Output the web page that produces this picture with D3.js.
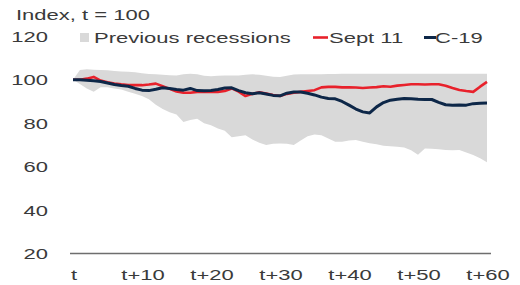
<!DOCTYPE html>
<html>
<head>
<meta charset="utf-8">
<script src="https://cdn.jsdelivr.net/npm/d3@7"></script>
<style>
  body { margin: 0; background: #fff; }
  text { font-family: "Liberation Sans", Arial, sans-serif; fill: #3a3a3a; }
</style>
</head>
<body>
<script>
// t = 0 .. 60
const days = d3.range(0, 61);

const c19 = [100, 100, 99.8, 99.5, 99.2, 98.5, 97.8, 97.3, 97, 96, 95.2, 95, 95.6, 96.3, 96, 95.5,
  95.2, 96, 95, 94.9, 95, 95.5, 96.2, 96.3, 95, 94, 93.6, 94, 93.4, 92.8, 92.6, 93.8, 94.4, 94.4,
  93.8, 93, 92, 91.4, 91.2, 90, 88.3, 86.5, 85.2, 84.7, 87.5, 89.5, 90.6, 91, 91.4, 91.3, 91,
  90.9, 90.9, 89.6, 88.5, 88.3, 88.4, 88.3, 89, 89.2, 89.3];

const sept11 = [100, 100, 100.5, 101.3, 99.6, 98.8, 98.3, 97.9, 97.6, 97.5, 97.5, 97.8, 98.2, 97,
  95.8, 94.6, 94, 94, 94.4, 94.5, 94.4, 94.4, 94.8, 96, 94.5, 92.5, 93.5, 94.2, 93.6, 93, 92.5,
  93.5, 94, 94.4, 94.8, 95.2, 96.5, 96.7, 96.7, 96.5, 96.5, 96.4, 96.2, 96.4, 96.6, 97, 96.8,
  97.3, 97.6, 97.9, 97.9, 97.8, 97.9, 97.9, 97.2, 96.2, 95.3, 94.8, 94.4, 96.8, 99];

const prevMax = [100, 104.5, 104.8, 104.6, 104.5, 104.4, 104, 103.8, 103.7, 103.5, 103, 102.7,
  102.5, 102.3, 102.1, 102, 102.5, 102.8, 102.5, 101.8, 101.6, 101.8, 102, 102, 102, 102.3, 102.5,
  102.3, 101.8, 101.4, 101.3, 101.8, 102.4, 102.5, 102.5, 102.5, 102.5, 102.6, 102.7, 102.8, 102.8,
  102.8, 102.8, 102.8, 102.8, 102.8, 102.8, 102.8, 102.8, 102.8, 102.8, 102.8, 102.8, 102.8, 102.8,
  102.8, 102.8, 102.8, 102.8, 102.8, 102.8];

const prevMin = [100, 98, 96, 94.5, 96.5, 96.5, 96, 95.5, 94.5, 93.5, 92.5, 91, 88.5, 86.5, 85, 84,
  80.5, 81.5, 82, 80, 79, 77.5, 76.5, 73.5, 74, 74.5, 72.5, 71, 70, 70.5, 70.7, 70.5, 70, 72, 74,
  74.8, 74.5, 73, 71.5, 71.5, 72, 72.2, 71.5, 70.8, 70.3, 69.6, 69.4, 69.2, 68.8, 67.5, 65.5, 68.3,
  68.2, 68, 67.7, 67.5, 67.6, 66.5, 65.3, 63.8, 62];

const yTicks = [20, 40, 60, 80, 100, 120];
const xTicks = [0, 10, 20, 30, 40, 50, 60];
const xTickLabels = ["t", "t+10", "t+20", "t+30", "t+40", "t+50", "t+60"];

const legendItems = ["Previous recessions", "Sept 11", "C-19"];

const red = "#e8212b";
const navy = "#0d2748";
const grey = "#d9d9d9";
const sx = 1.42; // text in the picture is stretched wide

var svg = d3.select("body")
  .append("svg")
  .attr("width", 520)
  .attr("height", 285);

const x = d3.scaleLinear().domain([0, 60]).range([73, 487]);
const y = d3.scaleLinear().domain([20, 120]).range([253.5, 36.3]);

// band of previous recessions
const area = d3.area()
  .x(function (d, i) { return x(days[i]); })
  .y0(function (d, i) { return y(prevMin[i]); })
  .y1(function (d, i) { return y(prevMax[i]); });

svg.append("path")
  .attr("d", area(days))
  .attr("fill", grey);

const line = d3.line()
  .x(function (d, i) { return x(days[i]); })
  .y(function (d) { return y(d); });

svg.append("path")
  .attr("d", line(sept11))
  .attr("fill", "none")
  .attr("stroke", red)
  .attr("stroke-width", 2.6)
  .attr("stroke-linejoin", "round");

svg.append("path")
  .attr("d", line(c19))
  .attr("fill", "none")
  .attr("stroke", navy)
  .attr("stroke-width", 3)
  .attr("stroke-linejoin", "round");

// x axis
svg.append("line")
  .attr("x1", 70)
  .attr("x2", 491)
  .attr("y1", y(20))
  .attr("y2", y(20))
  .attr("stroke", "#6e6e6e")
  .attr("stroke-width", 1.5);

svg.selectAll(".xlab")
  .data(xTicks)
  .enter()
  .append("text")
  .attr("class", "xlab")
  .attr("transform", function (d) { return "translate(" + (x(d) + 1) + ",280) scale(" + sx + ",1)"; })
  .attr("text-anchor", "middle")
  .style("font-size", "15.5px")
  .text(function (d, i) { return xTickLabels[i]; });

svg.selectAll(".ylab")
  .data(yTicks)
  .enter()
  .append("text")
  .attr("class", "ylab")
  .attr("transform", function (d) { return "translate(48," + (y(d) + 5.5) + ") scale(" + sx + ",1)"; })
  .attr("text-anchor", "end")
  .style("font-size", "15.5px")
  .text(function (d) { return d; });

// title
svg.append("text")
  .attr("transform", "translate(16,19.5) scale(" + sx + ",1)")
  .style("font-size", "15.5px")
  .text("Index, t = 100");

// legend
svg.append("rect")
  .attr("x", 80)
  .attr("y", 33)
  .attr("width", 9)
  .attr("height", 9)
  .attr("fill", grey);

svg.append("line")
  .attr("x1", 313).attr("x2", 328)
  .attr("y1", 37.5).attr("y2", 37.5)
  .attr("stroke", red)
  .attr("stroke-width", 2.6);

svg.append("line")
  .attr("x1", 424).attr("x2", 436)
  .attr("y1", 37.5).attr("y2", 37.5)
  .attr("stroke", navy)
  .attr("stroke-width", 3);

const legendX = [94, 329, 435];
svg.selectAll(".leg")
  .data(legendItems)
  .enter()
  .append("text")
  .attr("class", "leg")
  .attr("transform", function (d, i) { return "translate(" + legendX[i] + ",43) scale(" + sx + ",1)"; })
  .style("font-size", "15.5px")
  .text(function (d) { return d; });
</script>
</body>
</html>
